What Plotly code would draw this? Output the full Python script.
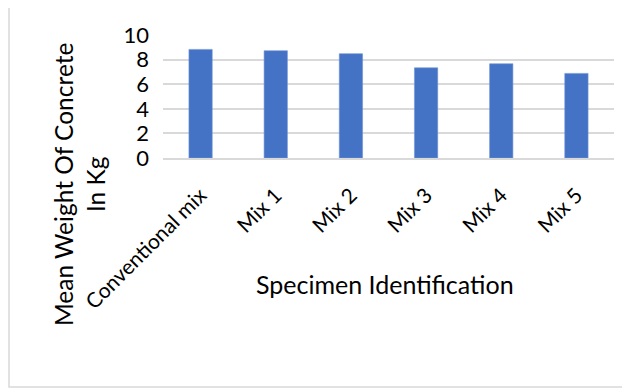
import plotly.graph_objects as go

categories = ["Conventional mix", "Mix 1", "Mix 2", "Mix 3", "Mix 4", "Mix 5"]
mean_weight = [8.83, 8.72, 8.48, 7.33, 7.66, 6.88]
y_ticks = [0, 2, 4, 6, 8, 10]

FONT = "Lato"
OFF = 8  # default page body margin
W, H = 630 - OFF, 388 - OFF
L, R, T, B = 163 - OFF, 16, 35 - OFF, 230
pw, ph = W - L - R, H - T - B

def px_x(px):
    return (px - OFF - L) / pw

def px_y(py):
    return (H - B - (py - OFF)) / ph

fig = go.Figure(go.Bar(
    x=categories, y=mean_weight,
    marker=dict(color="#4472C4", line=dict(color="#6f93d6", width=0.6)),
))

fig.update_layout(
    width=W, height=H,
    margin=dict(l=L, r=R, t=T, b=B, autoexpand=False),
    paper_bgcolor="white", plot_bgcolor="white",
    bargap=0.69,
    showlegend=False,
    font=dict(family=FONT, color="#000000"),
    xaxis=dict(
        tickangle=-45, tickfont=dict(size=21, family=FONT, color="#000000"),
        showgrid=False, showline=True, linecolor="#d9d9d9", linewidth=1.5,
        ticks="", automargin=False, ticklabelstandoff=15,
    ),
    yaxis=dict(
        range=[0, 10], tickvals=y_ticks,
        tickfont=dict(size=22, family=FONT, color="#000000"),
        showgrid=True, gridcolor="#d9d9d9", gridwidth=1.5,
        zeroline=False, showline=False, ticks="", ticklabelstandoff=13,
        automargin=False,
    ),
    annotations=[
        dict(text="Mean Weight Of Concrete<br>In Kg", textangle=-90,
             x=px_x(79), y=px_y(185), xref="paper", yref="paper",
             xanchor="center", yanchor="middle", showarrow=False,
             font=dict(size=24.5, family=FONT, color="#000000")),
        dict(text="Specimen Identification",
             x=px_x(385), y=px_y(284), xref="paper", yref="paper",
             xanchor="center", yanchor="middle", showarrow=False,
             font=dict(size=25, family=FONT, color="#000000")),
    ],
    shapes=[
        dict(type="rect", xref="paper", yref="paper",
             x0=px_x(9), x1=px_x(631), y0=px_y(387), y1=px_y(5.5),
             line=dict(color="#d9d9d9", width=1.5), fillcolor="rgba(0,0,0,0)"),
    ],
)

fig.write_html("out.html")
